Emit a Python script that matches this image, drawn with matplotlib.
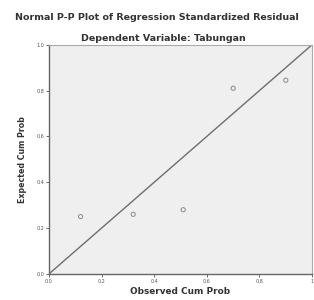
import matplotlib
matplotlib.use("Agg")
import matplotlib.pyplot as plt

# observed vs expected cumulative probabilities
observed = [0.12, 0.32, 0.51, 0.70, 0.90]
expected = [0.25, 0.26, 0.28, 0.81, 0.845]
ticks = [0.0, 0.2, 0.4, 0.6, 0.8, 1.0]
xlabels = ["0.0", "0.2", "0.4", "0.6", "0.8", "1"]
ylabels = ["0.0", "0.2", "0.4", "0.6", "0.8", "1.0"]

fig = plt.figure(figsize=(3.14, 3.0), dpi=100)
ax = fig.add_axes([0.156, 0.087, 0.838, 0.764])
ax.set_facecolor("#efefef")

ax.plot([0, 1], [0, 1], color="#6e6e6e", lw=1.0)
ax.scatter(observed, expected, s=9, marker="o", facecolors="none",
           edgecolors="#8a8a8a", linewidths=0.7, zorder=3)

ax.set_xlim(0, 1)
ax.set_ylim(0, 1)
ax.set_xticks(ticks)
ax.set_xticklabels(xlabels)
ax.set_yticks(ticks)
ax.set_yticklabels(ylabels)
ax.tick_params(labelsize=3.5, colors="#555555", length=2, width=0.6, pad=1.5)

for side in ["left", "bottom"]:
    ax.spines[side].set_color("#666666")
    ax.spines[side].set_linewidth(1.0)
for side in ["top", "right"]:
    ax.spines[side].set_color("#aaaaaa")
    ax.spines[side].set_linewidth(0.8)

ax.set_xlabel("Observed Cum Prob", fontsize=6.4, fontweight="bold", color="#333333", labelpad=2)
ax.set_ylabel("Expected Cum Prob", fontsize=5.7, fontweight="bold", color="#333333", labelpad=7)

fig.text(0.5, 0.942, "Normal P-P Plot of Regression Standardized Residual",
         ha="center", va="center", fontsize=6.8, fontweight="bold", color="#333333")
fig.text(0.52, 0.873, "Dependent Variable: Tabungan",
         ha="center", va="center", fontsize=6.8, fontweight="bold", color="#333333")

fig.savefig("out.png", dpi=100)
